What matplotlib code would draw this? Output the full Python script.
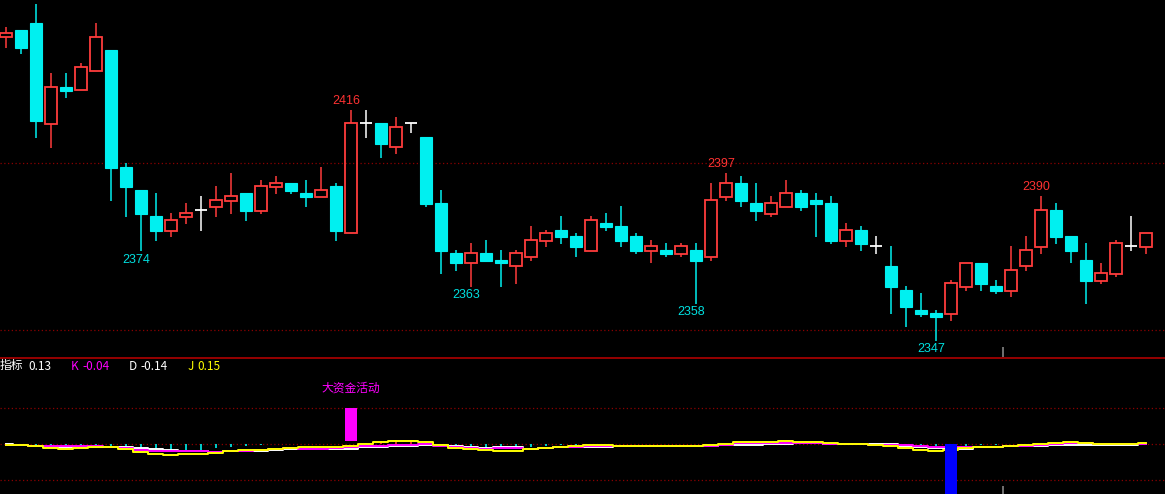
import matplotlib
matplotlib.use("Agg")
import matplotlib.pyplot as plt
from matplotlib.patches import Rectangle
import numpy as np

# candle data
opens = [2437.6, 2439.8, 2441.9, 2411.8, 2422.8, 2421.8, 2427.6, 2433.8, 2398.8, 2391.9,
         2384.1, 2379.7, 2383.9, 2385.8, 2386.9, 2388.7, 2391.0, 2385.7, 2392.9, 2394.0,
         2391.0, 2389.9, 2393.1, 2379.0, 2411.9, 2412.0, 2404.7, 2411.9, 2407.8, 2388.0,
         2373.1, 2369.9, 2373.1, 2371.0, 2369.0, 2371.9, 2376.7, 2379.9, 2378.1, 2373.7,
         2382.0, 2381.1, 2378.1, 2373.7, 2374.0, 2372.8, 2374.0, 2371.9, 2389.9, 2394.0,
         2388.0, 2384.8, 2386.9, 2391.0, 2388.9, 2388.0, 2376.7, 2379.9, 2375.0, 2369.2,
         2362.0, 2356.0, 2355.1, 2354.9, 2363.0, 2370.1, 2363.2, 2361.8, 2369.0, 2374.9,
         2385.9, 2378.1, 2371.0, 2364.8, 2366.9, 2375.1, 2374.9]
highs = [2440.7, 2439.8, 2447.6, 2426.9, 2426.9, 2429.9, 2441.9, 2433.8, 2400.0, 2391.9,
         2391.0, 2385.0, 2388.0, 2390.1, 2393.1, 2397.0, 2391.0, 2394.9, 2396.1, 2394.0,
         2394.9, 2398.8, 2394.0, 2415.9, 2415.9, 2412.0, 2413.8, 2411.9, 2407.8, 2391.9,
         2374.0, 2376.0, 2376.9, 2374.0, 2374.0, 2381.1, 2379.9, 2384.1, 2379.0, 2384.1,
         2385.0, 2387.1, 2379.0, 2376.9, 2376.0, 2376.0, 2376.0, 2394.0, 2397.1, 2396.1,
         2394.0, 2390.1, 2394.9, 2391.9, 2391.0, 2390.1, 2382.0, 2381.1, 2378.1, 2375.1,
         2363.2, 2361.1, 2356.0, 2365.0, 2370.1, 2370.1, 2365.0, 2375.1, 2378.1, 2390.1,
         2388.0, 2378.1, 2376.0, 2370.1, 2376.9, 2384.1, 2379.0]
lows = [2434.5, 2432.7, 2407.6, 2404.6, 2419.6, 2421.8, 2427.6, 2388.7, 2383.9, 2373.7,
        2376.7, 2377.9, 2381.8, 2379.7, 2383.9, 2384.8, 2382.7, 2384.8, 2390.8, 2390.8,
        2386.9, 2389.9, 2376.7, 2379.0, 2407.6, 2401.6, 2402.8, 2408.9, 2386.9, 2366.9,
        2367.8, 2363.0, 2370.7, 2363.0, 2363.9, 2370.7, 2374.9, 2375.8, 2371.9, 2373.7,
        2379.7, 2374.9, 2372.8, 2369.9, 2371.9, 2371.9, 2357.9, 2370.7, 2388.7, 2386.9,
        2382.7, 2383.9, 2386.9, 2385.7, 2377.9, 2375.8, 2374.9, 2373.7, 2372.8, 2354.9,
        2351.0, 2354.0, 2346.8, 2352.8, 2361.8, 2361.8, 2360.9, 2360.0, 2367.8, 2372.8,
        2375.8, 2369.9, 2357.9, 2363.9, 2366.0, 2373.7, 2372.8]
closes = [2438.9, 2434.5, 2412.7, 2422.7, 2421.6, 2428.7, 2437.7, 2398.6, 2392.9, 2384.8,
          2379.7, 2382.9, 2384.9, 2385.8, 2388.9, 2390.1, 2385.7, 2393.1, 2394.0, 2391.7,
          2389.9, 2391.9, 2379.7, 2411.9, 2411.9, 2405.8, 2410.7, 2411.9, 2387.8, 2373.7,
          2369.9, 2373.1, 2370.7, 2369.9, 2373.1, 2376.9, 2379.0, 2377.9, 2374.9, 2382.9,
          2380.9, 2376.7, 2373.7, 2375.1, 2372.8, 2375.1, 2370.7, 2388.9, 2394.0, 2388.7,
          2385.7, 2388.0, 2391.0, 2386.9, 2387.8, 2376.7, 2379.9, 2375.8, 2375.0, 2363.0,
          2357.0, 2354.9, 2354.0, 2364.1, 2370.1, 2363.9, 2361.8, 2368.0, 2374.0, 2385.9,
          2377.9, 2373.7, 2364.8, 2367.1, 2376.0, 2375.1, 2379.0]

high_marks = [23, 48, 69]
high_texts = ["2416", "2397", "2390"]
low_marks = [9, 31, 46, 62]
low_texts = ["2374", "2363", "2358", "2347"]

# indicator lines
K = [-0.07, -0.18, -0.24, -0.24, -0.28, -0.32, -0.28, -0.42, -0.51, -0.74, -0.93, -1.01, -0.97,
     -0.97, -1.15, -1.01, -0.88, -0.79, -0.65, -0.56, -0.6, -0.6, -0.51, -0.35, -0.28, -0.32,
     -0.1, -0.1, 0.04, -0.28, -0.42, -0.51, -0.6, -0.56, -0.56, -0.6, -0.51, -0.42, -0.35, -0.28,
     -0.28, -0.25, -0.25, -0.28, -0.28, -0.28, -0.28, -0.21, -0.18, 0.14, 0.14, 0.14, 0.18, 0.14,
     0.14, 0.07, 0.0, 0.0, -0.07, -0.14, -0.18, -0.24, -0.38, -0.42, -0.46, -0.46, -0.46, -0.32,
     -0.21, -0.14, 0.04, 0.1, 0.1, -0.04, -0.04, -0.04, -0.04]
D = [-0.04, -0.18, -0.32, -0.38, -0.38, -0.38, -0.38, -0.38, -0.42, -0.56, -0.65, -0.79, -0.88,
     -0.88, -1.15, -1.01, -0.88, -0.88, -0.74, -0.65, -0.69, -0.69, -0.6, -0.6, -0.42, -0.42,
     -0.28, -0.28, -0.14, -0.18, -0.28, -0.42, -0.51, -0.42, -0.42, -0.6, -0.56, -0.42, -0.42,
     -0.46, -0.46, -0.24, -0.24, -0.24, -0.28, -0.28, -0.28, -0.24, -0.18, -0.14, -0.14, -0.04,
     -0.04, 0.1, 0.1, 0.0, 0.0, 0.0, -0.04, -0.04, -0.32, -0.38, -0.51, -0.56, -0.6, -0.46, -0.46,
     -0.32, -0.24, -0.28, -0.14, -0.1, -0.1, -0.14, -0.14, -0.14, -0.04]
J = [-0.1, -0.1, -0.28, -0.49, -0.6, -0.51, -0.38, -0.46, -0.69, -1.07, -1.39, -1.57, -1.43,
     -1.43, -1.25, -1.01, -0.79, -0.74, -0.6, -0.51, -0.38, -0.38, -0.46, -0.28, 0.0, 0.28, 0.38,
     0.38, 0.28, -0.14, -0.49, -0.69, -0.83, -0.88, -0.88, -0.69, -0.56, -0.42, -0.28, -0.18,
     -0.18, -0.28, -0.28, -0.28, -0.32, -0.32, -0.32, -0.1, 0.0, 0.28, 0.28, 0.28, 0.38, 0.24,
     0.24, 0.1, 0.04, 0.04, -0.18, -0.32, -0.51, -0.74, -0.88, -0.74, -0.56, -0.46, -0.46, -0.32,
     -0.1, 0.04, 0.14, 0.24, 0.14, 0.0, 0.0, 0.0, 0.14]
ticks = [0, 0, -0.15, -0.32, -0.32, -0.32, -0.15, -0.26, -0.47, -0.58, -0.69, -0.79, -0.9,
         -0.75, -0.58, -0.43, -0.26, -0.11, 0, 0, 0, 0, 0, 0, 0.15, 0.32, 0.6, 0.38, 0.28, 0,
         -0.18, -0.28, -0.51, -0.46, -0.46, -0.38, -0.28, -0.14, -0.14, 0, 0, 0, 0, 0, 0, 0, 0,
         0, 0, 0, 0, 0, 0, 0, 0, 0, 0, 0, 0, 0, -0.14, -0.18, -0.28, -0.28, -0.28, -0.14, -0.14,
         0, 0, 0, 0, 0, 0, 0, 0, 0, 0]
big_bar = (23, 0.45, 5.0)     # index, bottom, top
blue_bar = (63, 0.0, -8.0)
header = [("指标", "#FFFFFF"), ("0.13", "#FFFFFF"), ("K", "#FF00FF"), ("-0.04", "#FF00FF"),
          ("D", "#FFFFFF"), ("-0.14", "#FFFFFF"), ("J", "#FFFF00"), ("0.15", "#FFFF00")]
header_x = [0, 28, 71, 82, 129, 140, 188, 197]

RED = "#FF3C3C"
CYAN = "#00F0F0"
GRID = "#8B0000"

W, H = 1165, 494
fig = plt.figure(figsize=(W / 100, H / 100), dpi=100, facecolor="black")
ax = fig.add_axes([0, 137 / H, 1, 357 / H], facecolor="black")
ax2 = fig.add_axes([0, 0, 1, 137 / H], facecolor="black")

n = len(opens)
x = np.arange(n)
bw = 0.82
px = 0.72  # one pixel in points

for a in (ax, ax2):
    a.set_xlim(-0.4, 77.27)
    a.set_axis_off()

ax.set_ylim(2341.9, 2448.8)
ax2.set_ylim(-6.92, 12.11)

for g in (2400, 2350):
    ax.axhline(g, color=GRID, lw=0.9, ls=(0, (1, 2)), zorder=0)
for g in (5, 0, -5):
    ax2.axhline(g, color=GRID, lw=0.9, ls=(0, (1, 2)), zorder=0)

for i in range(n):
    o, h, l, c = opens[i], highs[i], lows[i], closes[i]
    top, bot = max(o, c), min(o, c)
    if c > o:
        col = RED
        ax.vlines(i, top, h, color=col, lw=1.1)
        ax.vlines(i, l, bot, color=col, lw=1.1)
        ax.add_patch(Rectangle((i - bw / 2, bot), bw, top - bot, fill=False,
                               edgecolor=col, lw=1.3, zorder=3))
    elif c < o:
        col = CYAN
        ax.vlines(i, l, h, color=col, lw=1.1)
        ax.add_patch(Rectangle((i - bw / 2, bot), bw, top - bot, facecolor=col,
                               edgecolor=col, lw=0.8, zorder=3))
    else:
        col = "#FFFFFF"
        ax.vlines(i, l, h, color=col, lw=1.1)
        ax.hlines(o, i - bw / 2, i + bw / 2, color=col, lw=1.3)

for i, t in zip(high_marks, high_texts):
    ax.annotate(t, (i, highs[i]), xytext=(-3.2, 2), textcoords="offset points",
                ha="center", va="bottom", color="#FF3232", fontsize=9,
                family="Liberation Sans")
for i, t in zip(low_marks, low_texts):
    ax.annotate(t, (i, lows[i]), xytext=(-3.2, -2), textcoords="offset points",
                ha="center", va="top", color="#00E0E0", fontsize=9,
                family="Liberation Sans")

# gray day marker
ax.vlines(66.5, 2341.9, 2344.8, color="#909090", lw=1.1)
ax2.vlines(66.5, -6.92, -5.8, color="#909090", lw=1.1)

# separator
ax2.axhline(12.0, color="#B00000", lw=1.2)

# indicator
for i, v in enumerate(ticks):
    if v != 0:
        ax2.vlines(i, 0, v, color=CYAN if v < 0 else RED, lw=1.2, zorder=2)
ax2.plot(x, D, drawstyle="steps-mid", color="#FFFFFF", lw=1.4, zorder=3)
ax2.plot(x, K, drawstyle="steps-mid", color="#FF00FF", lw=1.4, zorder=4)
ax2.plot(x, J, drawstyle="steps-mid", color="#FFFF00", lw=1.4, zorder=5)

bi, b0, b1 = big_bar
ax2.add_patch(Rectangle((bi - bw / 2, b0), bw, b1 - b0, facecolor="#FF00FF",
                        edgecolor="none", zorder=6))
ax2.text(bi, 7.8, "大资金活动", color="#FF00FF", fontsize=8.5, ha="center", va="center",
         family=["Noto Sans CJK SC", "DejaVu Sans"])
bi, b0, b1 = blue_bar
ax2.add_patch(Rectangle((bi - bw / 2, b1), bw, b0 - b1, facecolor="#0000FF",
                        edgecolor="none", zorder=6))

for (t, c), hx in zip(header, header_x):
    fig.text(hx / W, 1 - 366 / H, t, color=c, fontsize=8.5, ha="left", va="center",
             family=["Noto Sans CJK SC", "DejaVu Sans"])

fig.savefig("out.png", dpi=100, facecolor="black")
